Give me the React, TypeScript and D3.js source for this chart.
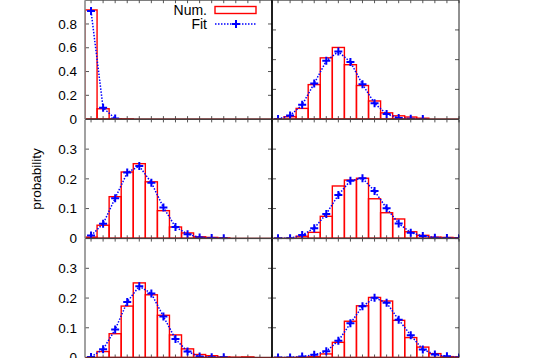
import React from 'react';
import * as d3 from 'd3';

// bins (integer values on x)
const bins = [0, 1, 2, 3, 4, 5, 6, 7, 8, 9, 10, 11, 12, 13, 14, 15];

// numerical histograms and fitted values, one pair per panel
const numA = [0.918, 0.087, 0.002, 0.001];
const fitA = [0.909, 0.095, 0.005];
const numB = [0, 0.008, 0.036, 0.116, 0.206, 0.241, 0.183, 0.113, 0.061, 0.021, 0.011, 0.007, 0.003];
const fitB = [0, 0.012, 0.048, 0.12, 0.196, 0.227, 0.192, 0.117, 0.053, 0.017, 0.004, 0.001, 0];
const numC = [0.004, 0.044, 0.14, 0.223, 0.251, 0.19, 0.093, 0.038, 0.018, 0.005, 0.003, 0.001];
const fitC = [0.009, 0.049, 0.135, 0.221, 0.243, 0.187, 0.104, 0.038, 0.014, 0.003, 0.001, 0];
const numD = [0, 0, 0.007, 0.02, 0.074, 0.176, 0.196, 0.202, 0.133, 0.086, 0.065, 0.022, 0.01, 0.004, 0.003, 0.002];
const fitD = [0, 0, 0.011, 0.034, 0.082, 0.146, 0.194, 0.202, 0.159, 0.101, 0.05, 0.019, 0.008, 0.002, 0.001, 0];
const numE = [0, 0.02, 0.08, 0.173, 0.251, 0.211, 0.142, 0.076, 0.029, 0.01, 0.006, 0.002, 0.001, 0.002];
const fitE = [0.002, 0.028, 0.094, 0.187, 0.24, 0.215, 0.138, 0.062, 0.02, 0.003, 0.001, 0.001];
const numF = [0, 0, 0.001, 0.003, 0.012, 0.051, 0.122, 0.174, 0.202, 0.19, 0.125, 0.067, 0.035, 0.013, 0.003, 0.002];
const fitF = [0, 0, 0.003, 0.009, 0.021, 0.056, 0.115, 0.172, 0.201, 0.184, 0.127, 0.075, 0.027, 0.01, 0.004, 0];

// y ticks
const ticksBig = [0, 0.2, 0.4, 0.6, 0.8];
const ticksSmall = [0, 0.1, 0.2, 0.3];

const panels = [
  { id: 'a', col: 0, row: 0, num: numA, fit: fitA, yMax: 1, ticks: ticksBig },
  { id: 'b', col: 1, row: 0, num: numB, fit: fitB, yMax: 0.4, ticks: ticksSmall },
  { id: 'c', col: 0, row: 1, num: numC, fit: fitC, yMax: 0.4, ticks: ticksSmall },
  { id: 'd', col: 1, row: 1, num: numD, fit: fitD, yMax: 0.4, ticks: ticksSmall },
  { id: 'e', col: 0, row: 2, num: numE, fit: fitE, yMax: 0.4, ticks: ticksSmall },
  { id: 'f', col: 1, row: 2, num: numF, fit: fitF, yMax: 0.4, ticks: ticksSmall },
];

const colX = [85, 272];
const pw = 187;
const rowY = [0.2, 119.4, 238.6];
const ph = 118.9;
const font = '"Liberation Sans", Arial, sans-serif';

const Plus = ({ x, y }: { x: number; y: number }) => (
  <path d={`M${x - 4},${y}H${x + 4}M${x},${y - 4}V${y + 4}`} stroke="#0000ff" strokeWidth={2} />
);

const Panel = ({ p }: { p: any }) => {
  const x0 = colX[p.col];
  const y0 = rowY[p.row];
  const x = d3.scaleLinear().domain([-0.5, 15]).range([x0, x0 + pw]);
  const y = d3.scaleLinear().domain([0, p.yMax]).range([y0 + ph, y0]);
  const bw = x(1) - x(0);
  const fitLine = d3.line<number>().x((_, i) => x(bins[i])).y(d => y(d));
  const mirrorTicks = p.col === 0 ? p.ticks : ticksSmall;

  return (
    <g>
      <clipPath id={'clip-' + p.id}>
        <rect x={x0} y={y0 - 1} width={pw} height={ph + 2} />
      </clipPath>
      {/* x ticks, bottom and top */}
      {bins.map(b => (
        <g key={b} stroke="#555" strokeWidth={1}>
          <line x1={x(b)} x2={x(b)} y1={y0 + ph} y2={y0 + ph - 3} />
          <line x1={x(b)} x2={x(b)} y1={y0} y2={y0 + 3} />
        </g>
      ))}
      {/* y ticks left and right */}
      {p.ticks.filter((t: number) => t > 0).map((t: number) => (
        <line key={'l' + t} x1={x0} x2={x0 + 4} y1={y(t)} y2={y(t)} stroke="#555" />
      ))}
      {mirrorTicks.filter((t: number) => t > 0).map((t: number) => (
        <line key={'r' + t} x1={x0 + pw} x2={x0 + pw - 4} y1={y(t)} y2={y(t)} stroke="#555" />
      ))}
      <g clipPath={`url(#clip-${p.id})`}>
        {p.num.map((v: number, i: number) => (
          <rect key={i} x={x(bins[i]) - bw / 2} y={y(v)} width={bw} height={y(0) - y(v)}
            fill="none" stroke="#ff0000" strokeWidth={1.4} />
        ))}
        <path d={fitLine(p.fit) || ''} fill="none" stroke="#0000ff" strokeWidth={1.5} strokeDasharray="1.5,1.5" />
        {p.fit.map((v: number, i: number) => <Plus key={i} x={x(bins[i])} y={y(v)} />)}
      </g>
      {/* borders */}
      <line x1={x0} x2={x0 + pw} y1={y0} y2={y0} stroke="#444" strokeWidth={1} />
      <line x1={x0} x2={x0 + pw} y1={y(0)} y2={y(0)} stroke="#6e2626" strokeWidth={1.6} />
      <line x1={x0} x2={x0} y1={y0} y2={y0 + ph} stroke={p.col === 0 ? '#8a8a8a' : '#000'} strokeWidth={p.col === 0 ? 1.6 : 1.3} />
      <line x1={x0 + pw} x2={x0 + pw} y1={y0} y2={y0 + ph} stroke={p.col === 0 ? '#000' : '#222'} strokeWidth={p.col === 0 ? 1.3 : 1} />
      {/* tick labels on the left column */}
      {p.col === 0 && p.ticks.map((t: number) => (
        <text key={'t' + t} x={x0 - 8} y={y(t)} dy="0.35em" textAnchor="end" fontSize={13.5} fontFamily={font} fill="#000">
          {d3.format('~g')(t)}
        </text>
      ))}
    </g>
  );
};

export default function App() {
  return (
    <svg width={545} height={358} style={{ position: 'absolute', left: 0, top: 0, background: '#fff' }}>
      {panels.map(p => <Panel key={p.id} p={p} />)}
      <text transform="translate(41,179) rotate(-90)" textAnchor="middle" fontSize={13.5} fontFamily={font}>
        probability
      </text>
      {/* legend */}
      <g fontSize={14} fontFamily={font}>
        <text x={207} y={10} dy="0.35em" textAnchor="end">Num.</text>
        <rect x={215} y={6.5} width={41} height={7} fill="none" stroke="#ff0000" strokeWidth={1.4} />
        <text x={207} y={24.3} dy="0.35em" textAnchor="end">Fit</text>
        <line x1={215} x2={256} y1={24} y2={24} stroke="#0000ff" strokeWidth={1.5} strokeDasharray="1.5,1.5" />
        <Plus x={236} y={24} />
      </g>
    </svg>
  );
}
